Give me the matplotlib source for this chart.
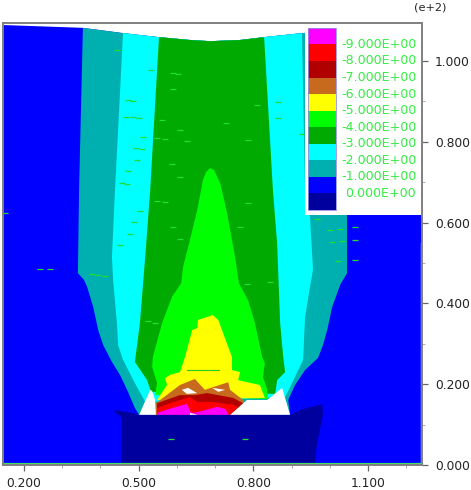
import matplotlib
matplotlib.use("Agg")
import matplotlib.pyplot as plt
from matplotlib.patches import Polygon, Rectangle
from matplotlib.ticker import FixedLocator, FormatStrFormatter

# ---- data: contour boundaries in plot units (x, y in e+2) ----
DOMAIN_X = [.145, .354, .459, .553, .634, .687, .765, .828, .927, 1.241, 1.241, .145]
DOMAIN_Y = [1.089, 1.082, 1.069, 1.059, 1.052, 1.049, 1.052, 1.059, 1.069, 1.091, 0, 0]

LEVEL_2_X = [.501, .490, .472, .451, .430, .407, .394, .381, .365, .357, .341, .344, .354, .354, 1.045, 1.045, 1.045, 1.027, 1.006, .993, .982, .969, .935, .909, .891, .896]
LEVEL_2_Y = [.124, .141, .181, .223, .255, .297, .334, .391, .441, .458, .475, .681, 1.082, 1.10, 1.10, .614, .475, .446, .391, .334, .297, .265, .235, .198, .161, .124]

LEVEL_3_X = [.517, .490, .459, .446, .443, .433, .430, .438, .459, .459, .927, .927, .935, .948, .956, .948, .935, .930, .896, .883]
LEVEL_3_Y = [.156, .203, .260, .297, .351, .458, .515, .681, 1.069, 1.10, 1.10, 1.069, .681, .614, .483, .441, .366, .260, .193, .168]

LEVEL_4_X = [.532, .522, .490, .493, .503, .517, .530, .553, .553, .828, .828, .851, .862, .870, .878, .883, .862, .857]
LEVEL_4_Y = [.181, .210, .255, .277, .351, .515, .681, 1.059, 1.10, 1.10, 1.059, .681, .549, .351, .267, .230, .210, .176]

LEVEL_5_X = [.543, .548, .535, .537, .561, .587, .611, .616, .634, .653, .668, .676, .687, .697, .713, .731, .752, .762, .786, .804, .823, .830, .825, .836, .838]
LEVEL_5_Y = [.173, .203, .243, .267, .351, .416, .450, .490, .557, .631, .705, .725, .735, .730, .698, .624, .515, .450, .408, .351, .267, .252, .218, .186, .163]

LEVEL_6_X = [.548, .574, .569, .582, .608, .621, .640, .653, .655, .694, .708, .744, .744, .765, .760, .817, .830]
LEVEL_6_Y = [.161, .198, .215, .223, .230, .267, .334, .339, .359, .371, .359, .267, .235, .230, .210, .198, .166]

LEVEL_7_X = [.545, .608, .647, .673, .734, .739, .773, .783, .545]
LEVEL_7_Y = [.153, .198, .213, .186, .205, .186, .161, .124, .124]

LEVEL_8_X = [.548, .608, .647, .679, .747, .773, .765, .548]
LEVEL_8_Y = [.153, .173, .173, .178, .166, .153, .124, .124]

LEVEL_9_X = [.548, .582, .634, .653, .694, .747, .760, .739, .548]
LEVEL_9_Y = [.141, .153, .168, .156, .156, .149, .144, .124, .124]

LEVEL_10_X = [.548, .587, .626, .637, .655, .705, .726, .736, .548]
LEVEL_10_Y = [.129, .141, .151, .129, .131, .144, .139, .124, .124]

HOLE_LEFT_X = [.501, .530, .535, .543, .545]
HOLE_LEFT_Y = [.124, .186, .183, .161, .124]
HOLE_RIGHT_X = [.739, .783, .836, .875, .896]
HOLE_RIGHT_Y = [.124, .161, .161, .191, .124]
HOLE_A_X = [.613, .629, .653, .626]
HOLE_A_Y = [.186, .191, .178, .176]
HOLE_B_X = [.692, .726, .708]
HOLE_B_Y = [.191, .186, .181]
HOLE_C_X = [.634, .655, .634]
HOLE_C_Y = [.129, .124, .124]

BLOCK_X = [.454, .456, .456, .433, .472, .501, .896, .922, .980, .982, .974, .966, .961]
BLOCK_Y = [0, .062, .116, .136, .131, .124, .124, .136, .151, .124, .087, .050, 0]

DASH_X = [.443, .532, .590, .603, .590, .472, .485, .467, .485, .501, .561, .608, .548, .569, .626, .511, .493, .509, .496, .587, .608, .472, .456, .469, .503, .488, .548, .569, .590, .608, .477, .451, .412, .378, .394, .524, .543, .809, .864, .864, .728, .786, .927, .786, .765, .966, 1.001, 1.027, 1.006, 1.032, 1.021, 1.066, 1.066, 1.066, .844, .783, .585, .778, .150, .242, .268]
DASH_Y = [1.027, .978, .970, .968, .931, .903, .901, .861, .861, .859, .854, .829, .809, .807, .802, .812, .785, .782, .755, .745, .713, .728, .698, .695, .629, .601, .653, .651, .589, .559, .572, .545, .468, .473, .470, .356, .351, .891, .898, .859, .846, .804, .819, .648, .589, .609, .582, .584, .552, .554, .505, .589, .557, .507, .453, .448, .064, .064, .624, .485, .485]

LEGEND_LABELS = ["-9.000E+00", "-8.000E+00", "-7.000E+00", "-6.000E+00", "-5.000E+00",
                 "-4.000E+00", "-3.000E+00", "-2.000E+00", "-1.000E+00", "0.000E+00"]
LEGEND_COLORS = ["#ff00ff", "#ff0000", "#b00000", "#c86a1e", "#ffff00", "#00ff00",
                 "#00aa00", "#00ffff", "#00b0b0", "#0000ff", "#00009f"]
X_MAJOR = [0.2, 0.5, 0.8, 1.1]
X_MINOR = [0.3, 0.4, 0.6, 0.7, 0.9, 1.0, 1.2]
Y_MAJOR = [0.0, 0.2, 0.4, 0.6, 0.8, 1.0]
Y_MINOR = [0.1, 0.3, 0.5, 0.7, 0.9]

W, H = 471, 490
fig = plt.figure(figsize=(W / 100, H / 100), dpi=100, facecolor="white")
ax = fig.add_axes([3 / W, 1 - 465 / H, 419 / W, 442 / H])
ax.set_xlim(0.145, 1.241)
ax.set_ylim(0, 1.094)

domain = Polygon(list(zip(DOMAIN_X, DOMAIN_Y)), closed=True, fc="#0000ff", ec="none", zorder=1)
ax.add_patch(domain)

layers = [
    (LEVEL_2_X, LEVEL_2_Y, "#00b0b0"),
    (LEVEL_3_X, LEVEL_3_Y, "#00ffff"),
    (LEVEL_4_X, LEVEL_4_Y, "#00aa00"),
    (LEVEL_5_X, LEVEL_5_Y, "#00ff00"),
    (LEVEL_6_X, LEVEL_6_Y, "#ffff00"),
    (LEVEL_7_X, LEVEL_7_Y, "#c86a1e"),
    (LEVEL_8_X, LEVEL_8_Y, "#b00000"),
    (LEVEL_9_X, LEVEL_9_Y, "#ff0000"),
    (LEVEL_10_X, LEVEL_10_Y, "#ff00ff"),
    (HOLE_LEFT_X, HOLE_LEFT_Y, "white"),
    (HOLE_RIGHT_X, HOLE_RIGHT_Y, "white"),
    (HOLE_A_X, HOLE_A_Y, "white"),
    (HOLE_B_X, HOLE_B_Y, "white"),
    (HOLE_C_X, HOLE_C_Y, "white"),
    (BLOCK_X, BLOCK_Y, "#00009f"),
]
for i, (xs, ys, col) in enumerate(layers):
    poly = ax.fill(xs, ys, color=col, lw=0, zorder=2 + i * 0.01)[0]
    poly.set_clip_path(domain)

ax.plot(DASH_X, DASH_Y, ls="none", marker="_", ms=4.2, mew=0.9, color="#22dd33", zorder=3)
ax.plot([.625, .710], [.235, .235], color="#22cc22", lw=0.8, zorder=3)
ax.plot([.145, 1.241], [.002, .002], color="#44dd66", lw=1.6, zorder=3, clip_on=False)
ax.plot([1.2395, 1.2395], [0, .55], color="#aaeecc", lw=1, zorder=3)

# legend panel
ax.add_patch(Rectangle((.721, .566), .279, .434, transform=ax.transAxes, fc="white", ec="none", zorder=4))
top, step = .989, (.989 - .577) / len(LEGEND_COLORS)
for i, col in enumerate(LEGEND_COLORS):
    ax.add_patch(Rectangle((.728, top - (i + 1) * step), .067, step, transform=ax.transAxes,
                           fc=col, ec="none", zorder=5))
ax.add_patch(Rectangle((.728, .577), .067, .412, transform=ax.transAxes, fc="none", ec="#9090e0", lw=0.6, zorder=6))
for i, lab in enumerate(LEGEND_LABELS):
    ax.text(.986, top - (i + 1) * step, lab, transform=ax.transAxes, ha="right", va="center",
            color="#33ee44", fontsize=9.1, zorder=6)

# axes
for s in ax.spines.values():
    s.set_color("#808080")
    s.set_linewidth(1.4)
    s.set_zorder(7)
ax.xaxis.set_major_locator(FixedLocator(X_MAJOR))
ax.xaxis.set_minor_locator(FixedLocator(X_MINOR))
ax.yaxis.set_major_locator(FixedLocator(Y_MAJOR))
ax.yaxis.set_minor_locator(FixedLocator(Y_MINOR))
ax.xaxis.set_major_formatter(FormatStrFormatter("%.3f"))
ax.yaxis.set_major_formatter(FormatStrFormatter("%.3f"))
ax.yaxis.tick_right()
ax.tick_params(which="major", length=4.3, width=0.9, color="#666666", labelsize=8.8, labelcolor="#222222")
ax.tick_params(which="minor", length=2.2, width=0.7, color="#aaaaaa")
ax.tick_params(axis="x", which="major", pad=4.5)
ax.tick_params(axis="y", which="major", pad=5)
fig.text(430 / W, 1 - 7 / H, "(e+2)", ha="center", va="center", fontsize=8.2, color="#222222")

fig.savefig("out.png", dpi=100)
